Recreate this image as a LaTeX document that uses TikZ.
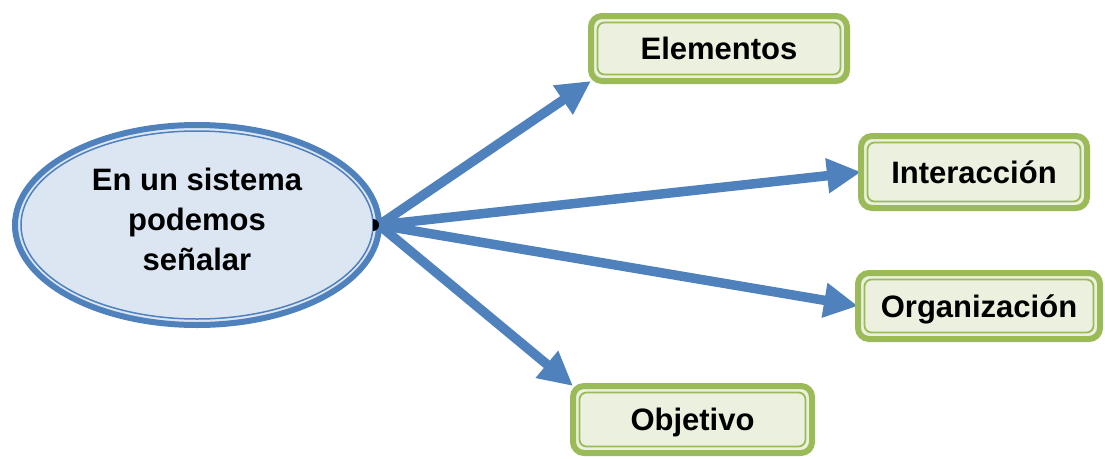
\documentclass[tikz,border=0pt]{standalone}
\usepackage{fontspec}
\setmainfont{Liberation Sans}
\usetikzlibrary{arrows.meta,shapes.geometric}
\definecolor{bblue}{HTML}{4F81BD}
\definecolor{efill}{HTML}{DCE6F2}
\definecolor{ggreen}{HTML}{9BBB59}
\definecolor{gfill}{HTML}{EBF1DE}
\pgfdeclarelayer{bg}
\pgfsetlayers{bg,main}
\newcommand\greenbox[5]{%
  \node[gbox, minimum width=#3, minimum height=#4] (#1) at #2 {#5};
  \draw[ginner] ([shift={(6.5pt,-6.5pt)}]#1.north west) rectangle ([shift={(-6.5pt,6.5pt)}]#1.south east);
}
\begin{document}
\begin{tikzpicture}[x=1pt,y=-1pt,
  lbl/.style={font=\fontsize{31}{40}\selectfont\bfseries, inner sep=0pt, align=center},
  gbox/.style={draw=ggreen, line width=6pt, fill=gfill, rounded corners=11pt, inner sep=0pt, outer sep=0pt,
    font=\fontsize{31}{40}\selectfont\bfseries, text height=22pt, text depth=0pt},
  ginner/.style={draw=ggreen, line width=1.8pt, rounded corners=7pt},
  conn/.style={draw=bblue, line width=9.5pt, -{Triangle[length=34pt,width=33pt]}}
]
\useasboundingbox (0,0) rectangle (1105,458);
\node[ellipse, draw=bblue, line width=6pt, fill=efill, minimum width=364pt, minimum height=200pt,
  inner sep=0pt, outer sep=0pt] (main) at (197,225) {};
\draw[bblue, line width=1.5pt] (main.center) ellipse [x radius=176pt, y radius=94pt];
\node[lbl] (maintxt) at (197,219.5) {En un sistema\\podemos\\señalar};
\coordinate (src) at (main.east);

\greenbox{elem}{(719,48.5)}{256pt}{65pt}{Elementos}
\greenbox{inter}{(974,172)}{226pt}{72pt}{Interacción}
\greenbox{org}{(979,306)}{242pt}{66pt}{Organización}
\greenbox{obj}{(692.5,419.5)}{239pt}{67pt}{Objetivo}

\begin{pgfonlayer}{bg}
\draw[conn] (src) -- (elem.south west);
\draw[conn] (src) -- (inter.west);
\draw[conn] (src) -- (org.west);
\draw[conn] (src) -- (obj.north west);
\end{pgfonlayer}
\fill[black] (src) ++(-6pt,6pt) arc[start angle=90, end angle=-90, radius=6pt] -- cycle;
\end{tikzpicture}
\end{document}
